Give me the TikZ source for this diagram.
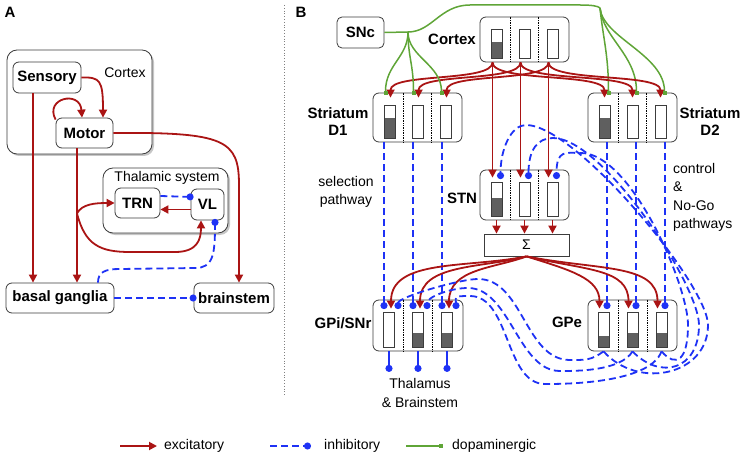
\documentclass[tikz,border=0pt]{standalone}
\usepackage{fontspec}
\setmainfont{Liberation Sans}
\usetikzlibrary{arrows.meta,calc,shadows}
\definecolor{exred}{RGB}{170,20,20}
\definecolor{inblue}{RGB}{30,50,245}
\definecolor{dagreen}{RGB}{95,165,55}
\definecolor{barfill}{RGB}{95,95,95}
\definecolor{edge}{RGB}{60,60,60}
\tikzset{
    exc/.style={exred, line width=1.8pt, -{Triangle[length=8pt,width=8pt]}},
    inh/.style={inblue, line width=1.8pt, dash pattern=on 7pt off 4pt, -{Circle[length=7pt]}},
    dop/.style={dagreen, line width=1.5pt, -{Square[length=4pt,width=4pt]}},
    box/.style={draw=edge, line width=0.8pt, rounded corners=6pt, fill=white, inner sep=0pt},
    bigbox/.style={box, rounded corners=10pt, drop shadow={shadow xshift=2pt, shadow yshift=-2pt, opacity=0.45}},
    sumbox/.style={draw=edge, line width=0.8pt, fill=white, inner sep=0pt},
    bold/.style={font=\fontsize{15}{17.5}\selectfont\bfseries, inner sep=0pt},
    plain/.style={font=\fontsize{14}{18.5}\selectfont, inner sep=0pt},
}
\begin{document}
\begin{tikzpicture}[x=1pt,y=-1pt]
    \useasboundingbox (0,0) rectangle (744,457);

    \node (labA) at (10, 12)[bold]{A};
    \node (labB) at (301, 12)[bold]{B};
    \draw[gray, dotted, line width=0.8pt] (284, 5) -- (284, 395);

    \node (cortexA) at (79.5, 102)[bigbox, minimum width=145pt, minimum height=104pt]{};
    \node (cortexAt) at (125, 73)[plain]{Cortex};
    \node (sens) at (47, 77.5)[box, bold, minimum width=68pt, minimum height=31pt]{Sensory};
    \node (mot) at (84.5, 133)[box, bold, minimum width=57pt, minimum height=30pt]{Motor};
    \node (thal) at (165.5, 200.5)[bigbox, minimum width=125pt, minimum height=65pt]{};
    \node (thalt) at (167, 178)[plain]{Thalamic system};
    \node (trn) at (137.5, 203)[box, bold, minimum width=45pt, minimum height=30pt]{TRN};
    \node (vl) at (207.5, 204.5)[box, bold, minimum width=33pt, minimum height=31pt]{VL};
    \node (bg) at (60, 298)[box, bold, minimum width=108pt, minimum height=30pt]{basal ganglia};
    \node (bs) at (234, 298)[box, bold, minimum width=80pt, minimum height=30pt]{brainstem};

    \coordinate (sensb) at ($(sens.south)+(-14,0)$);
    \coordinate (motb) at ($(mot.south)+(-7.5,0)$);
    \coordinate (mbr) at ($(motb)+(0,65)$);
    \coordinate (vlb) at ($(vl.south)+(-6.5,0)$);
    \coordinate (vldot) at ($(vl.south)+(7.5,-1.5)$);
    \coordinate (bgt) at ($(bg.north)+(38,0)$);
    \coordinate (bsn) at ($(bs.north)+(5,0)$);

    \draw[exc] (sens.east) .. controls (100, 77) and (103, 80) .. ($(mot.north)+(18.5,0)$);
    \draw[exc] ($(mot.north west)+(0,2)$) .. controls (44, 98) and (80, 90) .. ($(mot.north)+(-2.5,0)$);
    \draw[exc] (sensb) -- (sensb |- bg.north);
    \draw[exc] (motb) -- (motb |- bg.north);
    \draw[exc] (mbr) .. controls (82, 204) and (95, 203) .. (trn.west);
    \draw[exc] (mbr) .. controls (85, 245) and (100, 252) .. (130, 252) -- (175, 252) .. controls (197, 252) and (201, 240) .. (vlb);
    \draw[exc] ($(vl.west)+(0,5)$) -- ($(trn.east)+(0,6.5)$);
    \draw[inh] ($(trn.east)+(0,-7)$) -- ($(vl.west)+(3,-7.5)$);
    \draw[exc] (mot.east) .. controls (225, 132) and (239, 140) .. (239, 185) -- (bsn);
    \draw[inh] (bgt) .. controls (98, 272) and (105, 269) .. (120, 269) -- (195, 268) .. controls (213, 268) and (215, 255) .. (vldot);
    \draw[inh] (bg.east) -- ($(bs.west)+(3,0)$);

    \node (snc) at (360.5, 32.5)[box, bold, rounded corners=5pt, minimum width=47pt, minimum height=31pt]{SNc};
    \node (ctx) at (524.5, 39.5)[box, minimum width=89pt, minimum height=45pt]{};
    \node (ctxt) at (452, 39)[bold]{Cortex};
    \node (d1) at (417.5, 117.5)[box, minimum width=89pt, minimum height=49pt]{};
    \node (d1t) at (338, 121.5)[bold, align=center]{Striatum\\D1};
    \node (d2) at (632.5, 117.5)[box, minimum width=89pt, minimum height=49pt]{};
    \node (d2t) at (710, 121.5)[bold, align=center]{Striatum\\D2};
    \node (stn) at (524.5, 195)[box, minimum width=89pt, minimum height=50pt]{};
    \node (stnt) at (462, 198)[bold]{STN};
    \node (sig) at (526.5, 245)[sumbox, plain, minimum width=85pt, minimum height=22pt]{Σ};
    \node (gpi) at (418, 325.5)[box, minimum width=90pt, minimum height=51pt]{};
    \node (gpit) at (343, 323)[bold]{GPi/SNr};
    \node (gpe) at (632.5, 325.5)[box, minimum width=89pt, minimum height=51pt]{};
    \node (gpet) at (567, 322)[bold]{GPe};
    \node (selt) at (346, 192)[plain, align=center]{selection\\pathway};
    \node (ctrlt) at (673, 197.5)[plain, anchor=west, align=left]{control\\\&\\No-Go\\pathways};
    \node (thbt) at (420, 393)[plain, align=center]{Thalamus\\\& Brainstem};

    \foreach \b/\s/\fa/\fb/\fc in {ctx/28/.44/1/1, d1/28/.375/1/1, d2/28/.375/1/1, stn/28/.45/1/1, gpi/29/1/.58/.58, gpe/29/.67/.58/.58}
        {
            \foreach \k in {-0.5,0.5}
                {
                    \draw[densely dotted, line width=0.7pt] ($(\b.north)+(\k*\s,0)$) -- ($(\b.south)+(\k*\s,0)$);
                }
            \foreach \i/\f in {1/\fa,2/\fb,3/\fc}
                {
                    \coordinate (\b top\i) at ($(\b.north)+({(\i-2)*\s},13)$);
                    \coordinate (\b bot\i) at ($(\b.south)+({(\i-2)*\s},-4)$);
                    \fill[barfill] ($(\b top\i)!\f!(\b bot\i)+(-5.5,0)$) rectangle ($(\b bot\i)+(5.5,0)$);
                    \draw[edge, line width=0.8pt] ($(\b top\i)+(-5.5,0)$) rectangle ($(\b bot\i)+(5.5,0)$);
                }
        }

    \foreach \i/\dx in {1/-28,2/0,3/28}
        {
            \coordinate (ctxo\i) at ($(ctx.south)+(\dx-4,0)$);
            \coordinate (stne\i) at ($(stn.north)+(\dx-4,8)$);
            \coordinate (stnd\i) at ($(stn.north)+(\dx+4,9.5)$);
            \coordinate (stnb\i) at ($(stn.south)+(\dx,0)$);
            \coordinate (d1e\i) at ($(d1.north)+(\dx+1,5)$);
            \coordinate (d1g\i) at ($(d1.north)+(\dx-4,2)$);
            \coordinate (d2e\i) at ($(d2.north)+(\dx,5)$);
            \coordinate (d2g\i) at ($(d2.north)+(\dx+4,2)$);
        }
    \foreach \i/\dx in {1/-29,2/0,3/29}
        {
            \coordinate (gpiL\i) at ($(gpi.north)+(\dx-5,9.5)$);
            \coordinate (gpiE\i) at ($(gpi.north)+(\dx+2,9)$);
            \coordinate (gpiR\i) at ($(gpi.north)+(\dx+9,9.5)$);
            \coordinate (thd\i) at ($(gpi.south)+(\dx,20.5)$);
            \coordinate (gpeE\i) at ($(gpe.north)+(\dx-4,9)$);
            \coordinate (gpeD\i) at ($(gpe.north)+(\dx+3.5,9.5)$);
            \coordinate (gpeB\i) at ($(gpe.south)+(\dx,0)$);
        }

    \coordinate (snj1) at (408, 32);
    \coordinate (snj2) at (600, 8);
    \draw[dagreen, line width=1.5pt] (snc.east) -- (snj1) .. controls (432, 32) and (440, 5) .. (470, 5) -- (580, 5) .. controls (592, 5) and (598, 6) .. (snj2);

    \foreach \i in {1,2,3}
        {
            \draw[exc] (ctxo\i) .. controls +(0,20) and +(0,-25) .. (d1e\i);
            \draw[exc] (ctxo\i) .. controls +(0,20) and +(0,-25) .. (d2e\i);
            \draw[exc] (ctxo\i) -- (stne\i);
            \draw[dop] (snj1) .. controls +(0,25) and +(0,-30) .. (d1g\i);
            \draw[dop] (snj2) .. controls +(3,30) and +(0,-40) .. (d2g\i);
            \draw[inh] (gpiL\i |- d1.south) -- (gpiL\i);
            \draw[inh] (gpeD\i |- d2.south) -- (gpeD\i);
            \draw[exc] (stnb\i) -- (stnb\i |- sig.north);
            \draw[inh, solid] (gpi.south -| thd\i) -- (thd\i);
        }

    \foreach \i/\a/\c in {1/-60/50, 2/-45/45, 3/-32/40}
        {
            \draw[exc] (sig.south) .. controls +(\a,12) and +(0,-\c) .. (gpiE\i);
        }
    \foreach \i/\a/\c in {1/45/30, 2/60/40, 3/72/45}
        {
            \draw[exc] (sig.south) .. controls +(\a,14) and +(0,-\c) .. (gpeE\i);
        }

    \foreach \i/\ax/\yb/\xr/\c/\xt/\yt in {1/35/390/708/50/526/125, 2/28/380/699/45/553/138, 3/15/368/688/35/581/153}
        {
            \draw[inh] (gpeB\i) .. controls +(\ax,\yb-351) and +(0,\c) .. (\xr, 325) .. controls +(0,-40) and +(50,0) .. (\xt, \yt) .. controls +(-15,0) and +(0,-30) .. (stnd\i);
        }
    \foreach \i/\xb/\yb/\xt/\yt/\c in {1/570/360/478/279/45, 2/560/371/468/288/42, 3/545/384/470/296/40}
        {
            \draw[inh] (gpeB\i) .. controls +(-12,\yb-351) and +(15,0) .. (\xb, \yb) .. controls +(-\c,0) and +(\c,0) .. (\xt, \yt) .. controls +(-18,0) and +(0,-12) .. (gpiR\i);
        }

    \coordinate (lgE0) at (120, 446);
    \coordinate (lgE1) at (157, 446);
    \coordinate (lgI0) at (270, 446);
    \coordinate (lgI1) at (311, 446);
    \coordinate (lgD0) at (406, 446);
    \coordinate (lgD1) at (443, 446);
    \draw[exc] (lgE0) -- (lgE1);
    \draw[inh] (lgI0) -- (lgI1);
    \draw[dop] (lgD0) -- (lgD1);
    \node (lgEt) at (164, 446)[plain, anchor=west]{excitatory};
    \node (lgIt) at (324, 446)[plain, anchor=west]{inhibitory};
    \node (lgDt) at (452, 446)[plain, anchor=west]{dopaminergic};
\end{tikzpicture}
\end{document}
